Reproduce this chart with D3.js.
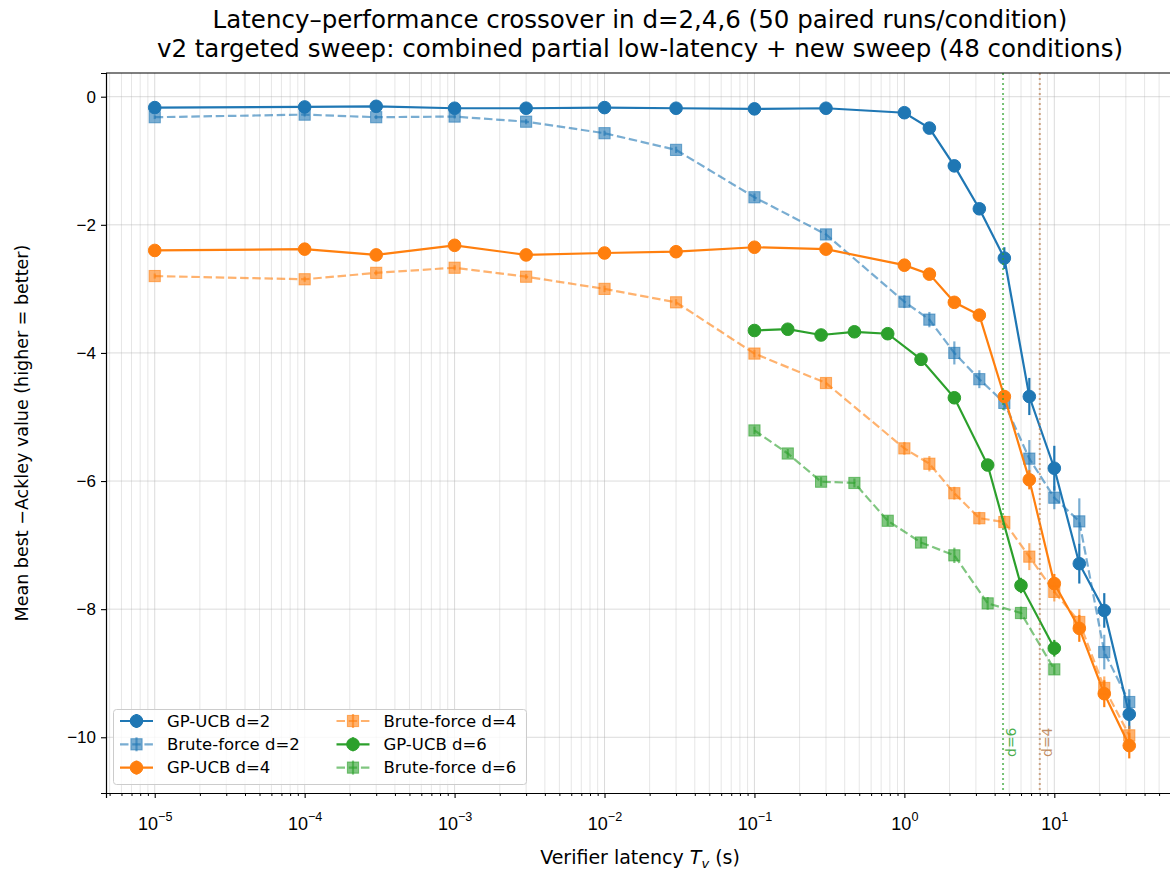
<!DOCTYPE html>
<html>
<head>
<meta charset="utf-8">
<script src="https://cdn.jsdelivr.net/npm/d3@7"></script>
<style>
  body { margin: 0; background: #fff; }
  svg { display: block; font-family: "DejaVu Sans", sans-serif; }
</style>
</head>
<body>
<svg id="chart" width="1170" height="871"></svg>
<script>
// latency values (s)
const latencyMain = [1e-5, 1e-4, 3e-4, 1e-3, 3e-3, 1e-2, 3e-2, 0.1, 0.3, 1, 1.468, 2.154, 3.162, 4.642, 6.813, 10, 14.68, 21.54, 31.62];
const latencyD6 = [0.1, 0.1668, 0.2783, 0.4642, 0.7743, 1.2915, 2.1544, 3.5938, 5.9948, 10];

const gpD2 = [-0.17, -0.16, -0.15, -0.18, -0.18, -0.17, -0.18, -0.19, -0.18, -0.25, -0.49, -1.08, -1.75, -2.52, -4.68, -5.80, -7.29, -8.02, -9.64];
const gpD2Err = [0.03, 0.03, 0.03, 0.03, 0.03, 0.03, 0.03, 0.03, 0.03, 0.04, 0.05, 0.07, 0.08, 0.17, 0.29, 0.35, 0.31, 0.27, 0.23];
const bfD2 = [-0.32, -0.28, -0.32, -0.31, -0.39, -0.57, -0.83, -1.57, -2.15, -3.20, -3.48, -4.00, -4.41, -4.78, -5.65, -6.26, -6.63, -8.67, -9.45];
const bfD2Err = [0.03, 0.03, 0.03, 0.03, 0.04, 0.04, 0.05, 0.06, 0.08, 0.10, 0.12, 0.18, 0.14, 0.12, 0.29, 0.18, 0.36, 0.27, 0.20];
const gpD4 = [-2.40, -2.38, -2.47, -2.32, -2.47, -2.44, -2.42, -2.35, -2.38, -2.63, -2.77, -3.21, -3.41, -4.68, -5.98, -7.60, -8.30, -9.32, -10.13];
const gpD4Err = [0.04, 0.04, 0.04, 0.04, 0.04, 0.04, 0.04, 0.04, 0.05, 0.06, 0.06, 0.07, 0.07, 0.10, 0.15, 0.15, 0.21, 0.21, 0.20];
const bfD4 = [-2.80, -2.85, -2.75, -2.67, -2.81, -3.00, -3.21, -4.01, -4.47, -5.49, -5.73, -6.19, -6.58, -6.64, -7.18, -7.73, -8.20, -9.23, -9.97];
const bfD4Err = [0.04, 0.04, 0.04, 0.04, 0.04, 0.05, 0.05, 0.06, 0.08, 0.10, 0.12, 0.10, 0.10, 0.10, 0.21, 0.15, 0.20, 0.18, 0.15];
const gpD6 = [-3.65, -3.63, -3.72, -3.67, -3.70, -4.10, -4.70, -5.75, -7.63, -8.61];
const gpD6Err = [0.05, 0.05, 0.05, 0.05, 0.05, 0.06, 0.08, 0.08, 0.12, 0.13];
const bfD6 = [-5.21, -5.57, -6.01, -6.03, -6.62, -6.96, -7.16, -7.91, -8.06, -8.94];
const bfD6Err = [0.06, 0.07, 0.07, 0.07, 0.08, 0.08, 0.12, 0.10, 0.10, 0.08];

const crossoverX = [4.55, 8.0];
const crossoverLabels = ["d=6", "d=4"];

const xTickValues = [1e-5, 1e-4, 1e-3, 1e-2, 1e-1, 1, 10];
const xTickExponents = ["\u22125", "\u22124", "\u22123", "\u22122", "\u22121", "0", "1"];
const yTickValues = [0, -2, -4, -6, -8, -10];

const series = [
    { name: "GP-UCB d=2", x: latencyMain, y: gpD2, err: gpD2Err, color: "#1f77b4", marker: "circle", dashed: false },
    { name: "Brute-force d=2", x: latencyMain, y: bfD2, err: bfD2Err, color: "#1f77b4", marker: "square", dashed: true },
    { name: "GP-UCB d=4", x: latencyMain, y: gpD4, err: gpD4Err, color: "#ff7f0e", marker: "circle", dashed: false },
    { name: "Brute-force d=4", x: latencyMain, y: bfD4, err: bfD4Err, color: "#ff7f0e", marker: "square", dashed: true },
    { name: "GP-UCB d=6", x: latencyD6, y: gpD6, err: gpD6Err, color: "#2ca02c", marker: "circle", dashed: false },
    { name: "Brute-force d=6", x: latencyD6, y: bfD6, err: bfD6Err, color: "#2ca02c", marker: "square", dashed: true }
];
const crossoverColors = ["#2ca02c", "#b87a48"];

const margin = { left: 106, right: 1178, top: 73, bottom: 793 };
const svg = d3.select("#chart");

const x = d3.scaleLog()
    .domain([Math.pow(10, -5.325), Math.pow(10, 1.825)])
    .range([margin.left, margin.right]);
const y = d3.scaleLinear()
    .domain([-10.87, 0.37])
    .range([margin.bottom, margin.top]);

svg.append("defs").append("clipPath").attr("id", "plot-clip")
    .append("rect")
    .attr("x", margin.left).attr("y", margin.top)
    .attr("width", margin.right - margin.left).attr("height", margin.bottom - margin.top);

// grid
const minorValues = [];
for (let e = -6; e <= 1; e++) {
    for (let m = 2; m <= 9; m++) {
        const v = m * Math.pow(10, e);
        if (v > x.domain()[0] && v < x.domain()[1]) minorValues.push(v);
    }
}
const grid = svg.append("g").attr("clip-path", "url(#plot-clip)");
grid.selectAll("line.minor")
    .data(minorValues)
    .enter().append("line")
    .attr("x1", d => x(d)).attr("x2", d => x(d))
    .attr("y1", margin.top).attr("y2", margin.bottom)
    .style("stroke", "#b0b0b0").style("stroke-opacity", 0.32).style("stroke-width", "1px");
grid.selectAll("line.major")
    .data(xTickValues)
    .enter().append("line")
    .attr("x1", d => x(d)).attr("x2", d => x(d))
    .attr("y1", margin.top).attr("y2", margin.bottom)
    .style("stroke", "#b0b0b0").style("stroke-opacity", 0.45).style("stroke-width", "1px");
grid.selectAll("line.hgrid")
    .data(yTickValues)
    .enter().append("line")
    .attr("x1", margin.left).attr("x2", margin.right)
    .attr("y1", d => y(d)).attr("y2", d => y(d))
    .style("stroke", "#b0b0b0").style("stroke-opacity", 0.45).style("stroke-width", "1px");

// data
const plot = svg.append("g").attr("clip-path", "url(#plot-clip)");
series.forEach(s => {
    const alpha = s.dashed ? 0.6 : 1;
    const pts = s.x.map((xv, i) => ({ x: xv, y: s.y[i], e: s.err[i] }));
    const g = plot.append("g");

    g.append("path")
        .datum(pts)
        .attr("d", d3.line().x(d => x(d.x)).y(d => y(d.y)))
        .style("fill", "none")
        .style("stroke", s.color)
        .style("stroke-opacity", alpha)
        .style("stroke-width", "2.2px")
        .style("stroke-dasharray", s.dashed ? "8.5,3.7" : null);

    g.selectAll("line.err")
        .data(pts)
        .enter().append("line")
        .attr("x1", d => x(d.x)).attr("x2", d => x(d.x))
        .attr("y1", d => y(d.y - d.e)).attr("y2", d => y(d.y + d.e))
        .style("stroke", s.color)
        .style("stroke-opacity", alpha)
        .style("stroke-width", "2.2px");

    if (s.marker === "circle") {
        g.selectAll("circle")
            .data(pts)
            .enter().append("circle")
            .attr("cx", d => x(d.x)).attr("cy", d => y(d.y))
            .attr("r", 6.3)
            .style("fill", s.color).style("fill-opacity", alpha)
            .style("stroke", s.color).style("stroke-opacity", alpha).style("stroke-width", "1px");
    } else {
        g.selectAll("rect")
            .data(pts)
            .enter().append("rect")
            .attr("x", d => x(d.x) - 5.6).attr("y", d => y(d.y) - 5.6)
            .attr("width", 11.2).attr("height", 11.2)
            .style("fill", s.color).style("fill-opacity", alpha)
            .style("stroke", s.color).style("stroke-opacity", alpha).style("stroke-width", "1px");
    }
});

// crossover markers
crossoverX.forEach((cx, i) => {
    plot.append("line")
        .attr("x1", x(cx)).attr("x2", x(cx))
        .attr("y1", margin.top).attr("y2", margin.bottom)
        .style("stroke", crossoverColors[i])
        .style("stroke-opacity", 0.65)
        .style("stroke-width", "2px")
        .style("stroke-dasharray", "2,3");
    const ty = margin.bottom - 0.05 * (margin.bottom - margin.top);
    svg.append("text")
        .attr("transform", `translate(${x(cx) + 1.5},${ty}) rotate(-90)`)
        .attr("dy", "0.8em")
        .style("font-size", "14px")
        .style("fill", crossoverColors[i])
        .style("fill-opacity", 0.85)
        .text(crossoverLabels[i]);
});

// axes
const xAxis = svg.append("g")
    .attr("transform", `translate(0,${margin.bottom})`)
    .call(d3.axisBottom(x).tickValues(xTickValues).tickSize(5).tickPadding(6).tickFormat(""));
xAxis.selectAll(".tick text").remove();
xAxis.selectAll(".tick").append("text")
    .attr("y", 37)
    .attr("text-anchor", "middle")
    .style("font-size", "18px")
    .style("fill", "#000")
    .each(function (d, i) {
        const t = d3.select(this);
        t.append("tspan").text("10");
        t.append("tspan").attr("dy", -9).style("font-size", "12.6px").text(xTickExponents[i]);
    });
svg.append("g")
    .attr("transform", `translate(0,${margin.bottom})`)
    .call(d3.axisBottom(x).tickValues(minorValues).tickSize(3).tickFormat(""))
    .call(g => g.select(".domain").remove());

const yAxis = svg.append("g")
    .attr("transform", `translate(${margin.left},0)`)
    .call(d3.axisLeft(y).tickValues(yTickValues).tickSize(5).tickPadding(5)
        .tickFormat(d => d === 0 ? "0" : "\u2212" + Math.abs(d)));
yAxis.selectAll(".tick text").style("font-size", "17px").style("fill", "#000");

[xAxis, yAxis].forEach(a => {
    a.select(".domain").style("stroke", "#000").style("stroke-width", "1.2px");
    a.selectAll(".tick line").style("stroke", "#000").style("stroke-width", "1.1px");
});
svg.append("line")
    .attr("x1", margin.left).attr("x2", margin.right)
    .attr("y1", margin.top).attr("y2", margin.top)
    .style("stroke", "#000").style("stroke-width", "1.2px");

// labels
const titleX = (margin.left + margin.right) / 2 - 2;
svg.append("text").attr("x", titleX).attr("y", 28).attr("text-anchor", "middle")
    .style("font-size", "24.5px")
    .text("Latency\u2013performance crossover in d=2,4,6 (50 paired runs/condition)");
svg.append("text").attr("x", titleX).attr("y", 57).attr("text-anchor", "middle")
    .style("font-size", "24.5px")
    .text("v2 targeted sweep: combined partial low-latency + new sweep (48 conditions)");

const xl = svg.append("text").attr("x", titleX).attr("y", 864).attr("text-anchor", "middle")
    .style("font-size", "19px");
xl.append("tspan").text("Verifier latency ");
xl.append("tspan").style("font-style", "italic").text("T");
xl.append("tspan").attr("dy", 4).style("font-size", "13px").style("font-style", "italic").text("v");
xl.append("tspan").attr("dy", -4).text(" (s)");

svg.append("text")
    .attr("transform", `translate(28,${(margin.top + margin.bottom) / 2}) rotate(-90)`)
    .attr("text-anchor", "middle")
    .style("font-size", "17.5px")
    .text("Mean best \u2212Ackley value (higher = better)");

// legend
const legend = svg.append("g");
legend.append("rect")
    .attr("x", 113.5).attr("y", 709.5).attr("width", 413).attr("height", 75)
    .attr("rx", 3)
    .style("fill", "#fff").style("fill-opacity", 0.8)
    .style("stroke", "#cccccc").style("stroke-width", "1px");
series.forEach((s, i) => {
    const col = Math.floor(i / 3), row = i % 3;
    const hx = col === 0 ? 120 : 336.5;
    const hy = 721 + row * 23.3;
    const alpha = s.dashed ? 0.6 : 1;
    const item = legend.append("g");
    item.append("line")
        .attr("x1", hx).attr("x2", hx + 33).attr("y1", hy).attr("y2", hy)
        .style("stroke", s.color).style("stroke-opacity", alpha).style("stroke-width", "2.2px")
        .style("stroke-dasharray", s.dashed ? "8.5,3.7" : null);
    item.append("line")
        .attr("x1", hx + 16.5).attr("x2", hx + 16.5).attr("y1", hy - 7).attr("y2", hy + 7)
        .style("stroke", s.color).style("stroke-opacity", alpha).style("stroke-width", "2.2px");
    if (s.marker === "circle") {
        item.append("circle").attr("cx", hx + 16.5).attr("cy", hy).attr("r", 6.3)
            .style("fill", s.color).style("fill-opacity", alpha)
            .style("stroke", s.color).style("stroke-opacity", alpha);
    } else {
        item.append("rect").attr("x", hx + 16.5 - 5.6).attr("y", hy - 5.6).attr("width", 11.2).attr("height", 11.2)
            .style("fill", s.color).style("fill-opacity", alpha)
            .style("stroke", s.color).style("stroke-opacity", alpha);
    }
    item.append("text")
        .attr("x", hx + 47).attr("y", hy).attr("dy", "0.35em")
        .style("font-size", "16.5px")
        .text(s.name);
});
</script>
</body>
</html>
